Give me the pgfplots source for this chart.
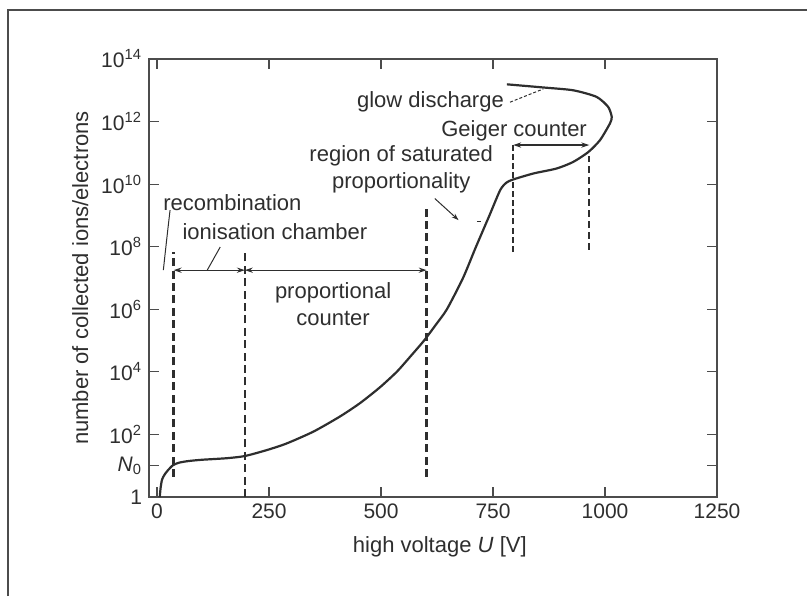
\documentclass[border=0pt]{standalone}
\usepackage{fontspec}
\setmainfont{Liberation Sans}
\usepackage{pgfplots}
\pgfplotsset{compat=1.18}
\usetikzlibrary{arrows.meta}
\definecolor{ink}{gray}{0.18}
\begin{document}
\begin{tikzpicture}[x=1pt,y=1pt]
\path[use as bounding box] (-74.5pt,-49.5pt) rectangle (329pt,248.5pt);
\begin{axis}[
  at={(0pt,0pt)}, anchor=south west,
  scale only axis, width=284pt, height=219pt,
  xmin=-18, xmax=1250, ymode=log, ymin=1, ymax=1e14,
  xtick={0,250,500,750,1000,1250},
  xticklabels={0,250,500,750,1000,1250},
  ytick={1,10,1e2,1e4,1e6,1e8,1e10,1e12,1e14},
  yticklabels={1,\textit{N}\textsubscript{0},10\textsuperscript{2},10\textsuperscript{4},10\textsuperscript{6},10\textsuperscript{8},10\textsuperscript{10},10\textsuperscript{12},10\textsuperscript{14}},
  yminorticks=false, xminorticks=false,
  tick align=inside, major tick length=5pt,
  axis line style={black!70, line width=0.6pt},
  every tick/.style={black!70, line width=0.6pt},
  tick label style={font=\fontsize{10.5}{12}\selectfont, text=ink},
  xlabel={high voltage \textit{U} [V]},
  ylabel={number of collected ions/electrons},
  label style={font=\fontsize{11}{13}\selectfont, text=ink},
  xlabel style={at={(axis description cs:0.512,-0.114)}, anchor=center},
  ylabel style={at={(axis description cs:-0.121,0.5)}, anchor=center},
  clip=false,
]
% characteristic curve
\addplot[ink, line width=1.1pt, smooth, tension=0.4] coordinates {
 (6,1) (8,2.0) (11,3.55) (16,5.0) (24,7.1) (36,10.5) (50,12.6) (70,14.1)
 (100,15.5) (156,17.4) (196,20.4) (245,31.6) (289,51.3) (349,123)
 (408,372) (453,1000) (497,3162) (535,1e4) (566,31623) (596,1e5)
 (622,3.16e5) (647,1e6) (683,1e7) (712,1e8)
 (742,1e9) (766,6.46e9) (780,1.12e10)
 (795,1.41e10) (840,2.19e10) (892,3.16e10) (929,5.13e10) (963,1.07e11)
 (989,2.57e11) (1011,8.71e11) (1015,1.41e12) (1007,2.95e12) (981,6.17e12)
 (929,1.0e13) (862,1.23e13) (781,1.55e13)
};
% region boundaries
\addplot[ink, line width=1.3pt, dash pattern=on 4pt off 2.2pt] coordinates {(37,4.37) (37,6.76e7)};
\addplot[ink, line width=1.3pt, dash pattern=on 4pt off 2.2pt] coordinates {(196,1) (196,6.76e7)};
\addplot[ink, line width=1.3pt, dash pattern=on 4pt off 2.2pt] coordinates {(602,4.37) (602,1.7e9)};
\addplot[ink, line width=0.7pt, dash pattern=on 3pt off 1.6pt] coordinates {(795,6.76e7) (795,2.19e11)};
\addplot[ink, line width=1.1pt, dash pattern=on 3.5pt off 2pt] coordinates {(965,7.94e7) (965,7.94e10)};
% range arrows
\addplot[ink, line width=0.6pt, {Stealth[length=4pt,width=2.6pt]}-{Stealth[length=4pt,width=2.6pt]}] coordinates {(37,1.78e7) (196,1.78e7)};
\addplot[ink, line width=0.6pt, {Stealth[length=4pt,width=2.6pt]}-{Stealth[length=4pt,width=2.6pt]}] coordinates {(196,1.78e7) (602,1.78e7)};
\addplot[ink, line width=0.6pt, {Stealth[length=4pt,width=2.6pt]}-{Stealth[length=4pt,width=2.6pt]}] coordinates {(795,1.78e11) (965,1.78e11)};
% pointers
\draw[ink, line width=0.5pt] (axis cs:29,1.48e9) .. controls (axis cs:22,2e8) .. (axis cs:14,1.78e7);
\draw[ink, line width=0.5pt] (axis cs:141,9.8e7) -- (axis cs:112,1.78e7);
\draw[ink, line width=0.5pt, -{Stealth[length=3.5pt,width=2.4pt]}] (axis cs:620,3.47e9) -- (axis cs:673,7.08e8);
\draw[ink, line width=0.7pt] (axis cs:714,6.31e8) -- (axis cs:724,6.31e8);
\draw[ink, line width=0.5pt, dash pattern=on 1.5pt off 1pt] (axis cs:788,4.17e12) -- (axis cs:862,1.1e13);
% labels
\begin{scope}[every node/.style={font=\fontsize{11}{13.5}\selectfont, text=ink, inner sep=0pt}]
\node[anchor=west] at (axis cs:13,2.63e9) {recombination};
\node at (axis cs:263,2.95e8) {ionisation chamber};
\node[align=center] at (axis cs:393,1.48e6) {proportional\\counter};
\node[align=center] at (axis cs:545,3.02e10) {region of saturated\\proportionality};
\node[anchor=east] at (axis cs:775,4.17e12) {glow discharge};
\node at (axis cs:797,4.9e11) {Geiger counter};
\end{scope}
\end{axis}
\draw[black!70, line width=1pt] (-70.5pt,-49.5pt) -- (-70.5pt,243.5pt) -- (329pt,243.5pt);
\end{tikzpicture}
\end{document}
